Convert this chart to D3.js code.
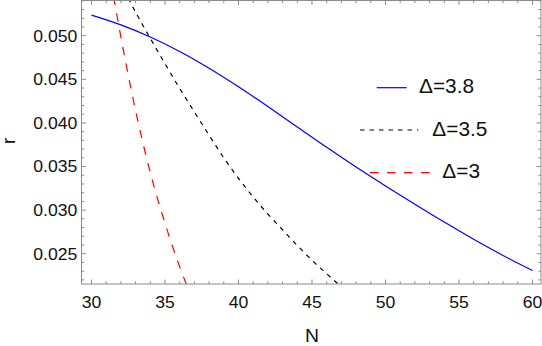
<!DOCTYPE html>
<html><head><meta charset="utf-8">
<script src="https://cdn.jsdelivr.net/npm/d3@7"></script>
<style>body{margin:0;background:#fff}svg{display:block}text{font-family:"Liberation Sans",Arial,sans-serif;fill:#111}</style>
</head><body><svg id="c" width="542" height="346"></svg>
<script>
// Data
const blueN = [30, 32, 34, 36, 38, 40, 42, 44, 46, 48, 50, 52, 54, 56, 58, 60];
const blueR = [0.05236, 0.05124, 0.04986, 0.04820, 0.04628, 0.04415, 0.04188, 0.03954, 0.03720, 0.03494, 0.03278, 0.03068, 0.02863, 0.02666, 0.02480, 0.02308];
const blackN = [32.5, 33.0, 33.5, 34.0, 35.0, 36.0, 37.0, 38.0, 39.0, 40.0, 41.0, 42.0, 43.0, 44.0, 45.0, 46.0, 47.0];
const blackR = [0.05430, 0.05270, 0.05118, 0.04970, 0.04680, 0.04395, 0.04125, 0.03860, 0.03600, 0.03365, 0.03150, 0.02955, 0.02775, 0.02595, 0.02425, 0.02270, 0.02120];
const redN = [31.5, 31.8, 32.0, 32.5, 33.0, 33.5, 34.0, 34.5, 35.0, 35.5, 36.0, 36.5];
const redR = [0.0545, 0.05170, 0.04985, 0.04550, 0.04140, 0.03770, 0.03430, 0.03125, 0.02850, 0.02590, 0.02350, 0.02130];
const seriesNames = ["Δ=3.8", "Δ=3.5", "Δ=3"];
const xTicks = [30, 35, 40, 45, 50, 55, 60];
const yTicks = [0.025, 0.030, 0.035, 0.040, 0.045, 0.050];
const xTickLabels = ["30", "35", "40", "45", "50", "55", "60"];
const yTickLabels = ["0.025", "0.030", "0.035", "0.040", "0.045", "0.050"];
const xLabel = "N", yLabel = "r";

const L = 81.5, R = 541, T = 0.5, B = 284;
const x = d3.scaleLinear().domain([29.32, 60.58]).range([L, R]);
const y = d3.scaleLinear().domain([0.02153, 0.05404]).range([B, T]);
const svg = d3.select("#c");
const frameCol = "#8c8c8c";

svg.append("clipPath").attr("id", "clip").append("rect")
  .attr("x", L).attr("y", T).attr("width", R - L).attr("height", B - T);

const g = svg.append("g").attr("clip-path", "url(#clip)");
const line = d3.line().x(d => x(d[0])).y(d => y(d[1])).curve(d3.curveMonotoneX);
const series = [
  {N: blueN, r: blueR, color: "#0000ff", dash: null},
  {N: blackN, r: blackR, color: "#000000", dash: "4.5,5"},
  {N: redN, r: redR, color: "#ff0000", dash: "8.5,8.5"}
];
series.forEach(s => {
  g.append("path").datum(s.N.map((n, i) => [n, s.r[i]]))
    .attr("d", line).attr("fill", "none").attr("stroke", s.color)
    .attr("stroke-width", 1.2).attr("stroke-dasharray", s.dash);
});

// Frame axes with inward ticks
const fr = svg.append("g");
fr.append("rect").attr("x", L).attr("y", T).attr("width", R - L).attr("height", B - T)
  .attr("fill", "none").attr("stroke", frameCol).attr("stroke-width", 1);
const xMinor = d3.range(30, 61, 1);
const yMinor = d3.range(22, 55, 1).map(v => v / 1000);
xMinor.forEach(v => {
  const major = v % 5 === 0, len = major ? 4.5 : 2.7;
  fr.append("line").attr("x1", x(v)).attr("x2", x(v)).attr("y1", B).attr("y2", B - len).attr("stroke", frameCol);
  fr.append("line").attr("x1", x(v)).attr("x2", x(v)).attr("y1", T).attr("y2", T + len).attr("stroke", frameCol);
});
yMinor.forEach((v, i) => {
  const major = (22 + i) % 5 === 0, len = major ? 4.5 : 2.7;
  fr.append("line").attr("y1", y(v)).attr("y2", y(v)).attr("x1", L).attr("x2", L + len).attr("stroke", frameCol);
  fr.append("line").attr("y1", y(v)).attr("y2", y(v)).attr("x1", R).attr("x2", R - len).attr("stroke", frameCol);
});

const sx = 1.08;
xTicks.forEach((v, i) => {
  svg.append("text").attr("transform", `translate(${x(v)},308.3) scale(${sx},1)`)
    .attr("text-anchor", "middle").attr("font-size", 16.3).text(xTickLabels[i]);
});
yTicks.forEach((v, i) => {
  svg.append("text").attr("transform", `translate(77.3,${y(v) + 5.9}) scale(${sx},1)`)
    .attr("text-anchor", "end").attr("font-size", 16.3).text(yTickLabels[i]);
});
svg.append("text").attr("transform", `translate(312,342) scale(${sx},1)`)
  .attr("text-anchor", "middle").attr("font-size", 18).text(xLabel);
svg.append("text").attr("transform", `translate(15,141) rotate(-90) scale(${sx},1)`)
  .attr("text-anchor", "middle").attr("font-size", 18.5).text(yLabel);

// Legend
const leg = [
  {x1: 376.7, x2: 406.7, y: 87.7, tx: 419, ty: 93.3},
  {x1: 360, x2: 418.3, y: 130, tx: 432.3, ty: 135.7},
  {x1: 370, x2: 431, y: 172.7, tx: 442.3, ty: 178.3}
];
leg.forEach((p, i) => {
  svg.append("line").attr("x1", p.x1).attr("x2", p.x2).attr("y1", p.y).attr("y2", p.y)
    .attr("stroke", series[i].color).attr("stroke-width", 1.2).attr("stroke-dasharray", series[i].dash);
  svg.append("text").attr("transform", `translate(${p.tx},${p.ty}) scale(1.07,1)`)
    .attr("font-size", 19.5).text(seriesNames[i]);
});
</script></body></html>
